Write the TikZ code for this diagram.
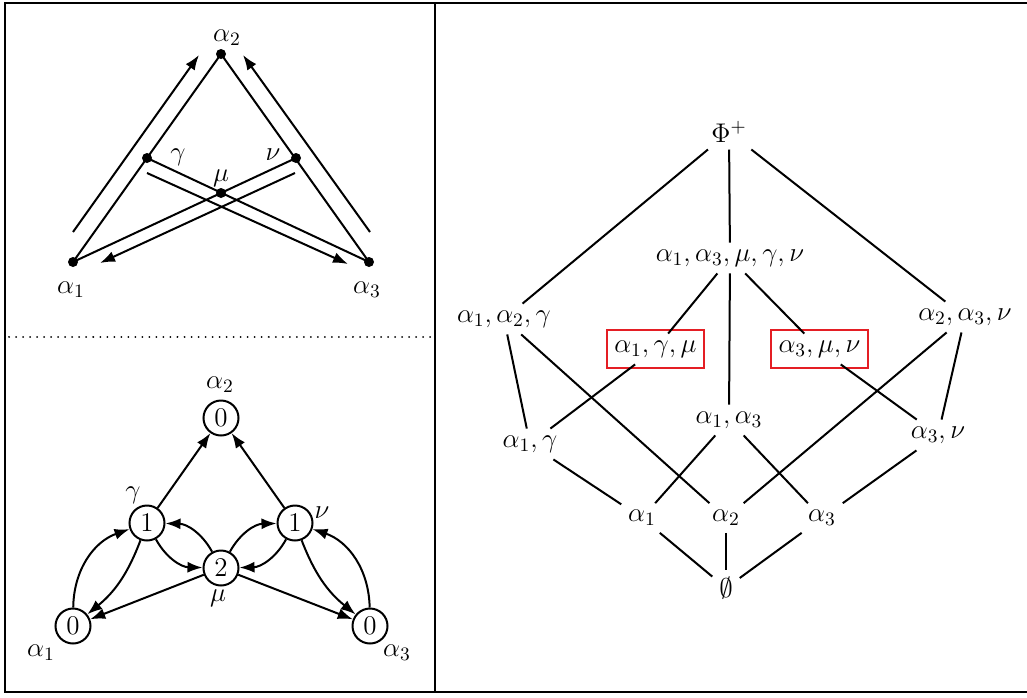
\RequirePackage{fix-cm}
\documentclass[tikz,border=0pt]{standalone}
\usetikzlibrary{arrows.meta,calc}
\definecolor{boxred}{RGB}{228,30,36}
\begin{document}
\begin{tikzpicture}[x=0.5pt,y=-0.5pt,
  font=\fontsize{13.5}{16}\selectfont,
  line width=1pt,
  frame/.style={line width=1.2pt},
  dotline/.style={line width=1pt, dash pattern=on 0.01pt off 3.5pt, line cap=round},
  dot/.style={circle, fill, inner sep=0pt, minimum size=5pt},
  arr/.style={-{Latex[length=7.5pt,width=5.5pt]}},
  cnode/.style={circle, draw, line width=1pt, inner sep=0pt, minimum size=17.5pt},
  lat/.style={inner sep=3pt},
  redbox/.style={draw=boxred, line width=1pt}
]
\useasboundingbox (0,0) rectangle (1027,697);
% frame
\draw[frame] (1030,3) -- (5,3) -- (5,692) -- (1030,692);
\draw[frame] (435,3) -- (435,692);
\draw[dotline] (9,337) -- (432,337);

% ---------- top-left ----------
\node[dot] (t2) at (221,54) {};
\node[dot] (tg) at (147,158) {};
\node[dot] (tn) at (296,158) {};
\node[dot] (tm) at (221,193) {};
\node[dot] (t1) at (73,262) {};
\node[dot] (t3) at (369,262) {};
\draw (t1.center) -- (t2.center) -- (t3.center);
\draw (tg.center) -- (t3.center);
\draw (tn.center) -- (t1.center);
\coordinate (p1s) at (73,232);  \coordinate (p1e) at (199,55);
\coordinate (p2s) at (370,232); \coordinate (p2e) at (243,55);
\coordinate (p3s) at (147,173); \coordinate (p3e) at (348,264);
\coordinate (p4s) at (295,173); \coordinate (p4e) at (100,263);
\draw[arr] (p1s) -- (p1e);
\draw[arr] (p2s) -- (p2e);
\draw[arr] (p3s) -- (p3e);
\draw[arr] (p4s) -- (p4e);
\node (lt2) at (227,38) {$\alpha_2$};
\node (lt1) at (71,290) {$\alpha_1$};
\node (lt3) at (367,290) {$\alpha_3$};
\node (ltg) at (178,157) {$\gamma$};
\node (ltn) at (273,155) {$\nu$};
\node (ltm) at (221,178) {$\mu$};

% ---------- bottom-left ----------
\node[cnode] (b2) at (221,418) {0};
\node[cnode] (bg) at (147,523) {1};
\node[cnode] (bn) at (295,523) {1};
\node[cnode] (bm) at (221,568) {2};
\node[cnode] (b1) at (73,626) {0};
\node[cnode] (b3) at (370,626) {0};
\node (lb2) at (220,385) {$\alpha_2$};
\node (lbg) at (133,495) {$\gamma$};
\node (lbn) at (322,513) {$\nu$};
\node (lbm) at (218,598) {$\mu$};
\node (lb1) at (41,653) {$\alpha_1$};
\node (lb3) at (397,653) {$\alpha_3$};
\draw[arr] (bg) -- (b2);
\draw[arr] (bn) -- (b2);
\draw[arr] (b1) to[bend left=35] (bg);
\draw[arr] (bg) to[bend left=15] (b1);
\draw[arr] (bg) to[bend right=30] (bm);
\draw[arr] (bm) to[bend right=30] (bg);
\draw[arr] (b3) to[bend right=35] (bn);
\draw[arr] (bn) to[bend right=15] (b3);
\draw[arr] (bn) to[bend left=30] (bm);
\draw[arr] (bm) to[bend left=30] (bn);
\draw[arr] (bm) -- (b1);
\draw[arr] (bm) -- (b3);

% ---------- right lattice ----------
\node[lat] (phi) at (729,132) {$\Phi^+$};
\node[lat] (big) at (730,258) {$\alpha_1,\alpha_3,\mu,\gamma,\nu$};
\node[lat] (L3) at (504,319) {$\alpha_1,\alpha_2,\gamma$};
\node[lat] (R3) at (965,317) {$\alpha_2,\alpha_3,\nu$};
\node[lat] (bL) at (655.5,349) {$\alpha_1,\gamma,\mu$};
\node[lat] (bR) at (819.5,349) {$\alpha_3,\mu,\nu$};
\draw[redbox] ($(bL)+(-48.5,-19.5)$) rectangle ($(bL)+(48.5,18.5)$);
\draw[redbox] ($(bR)+(-48.5,-19.5)$) rectangle ($(bR)+(48.5,18.5)$);
\node[lat] (a13) at (729,420) {$\alpha_1,\alpha_3$};
\node[lat] (a1g) at (530,444) {$\alpha_1,\gamma$};
\node[lat] (a3n) at (938,435) {$\alpha_3,\nu$};
\node[lat] (s1) at (642,518) {$\alpha_1$};
\node[lat] (s2) at (726,518) {$\alpha_2$};
\node[lat] (s3) at (822,518) {$\alpha_3$};
\node[lat] (emp) at (726,588) {$\emptyset$};
\draw (phi) -- (L3);
\draw (phi) -- (big);
\draw (phi) -- (R3);
\draw (big) -- (bL);
\draw (big) -- (bR);
\draw (big) -- (a13);
\draw (L3) -- (a1g);
\draw (L3) -- (s2);
\draw (bL) -- (a1g);
\draw (R3) -- (s2);
\draw (R3) -- (a3n);
\draw (bR) -- (a3n);
\draw (a1g) -- (s1);
\draw (a13) -- (s1);
\draw (a13) -- (s3);
\draw (a3n) -- (s3);
\draw (s1) -- (emp);
\draw (s2) -- (emp);
\draw (s3) -- (emp);
\end{tikzpicture}
\end{document}
